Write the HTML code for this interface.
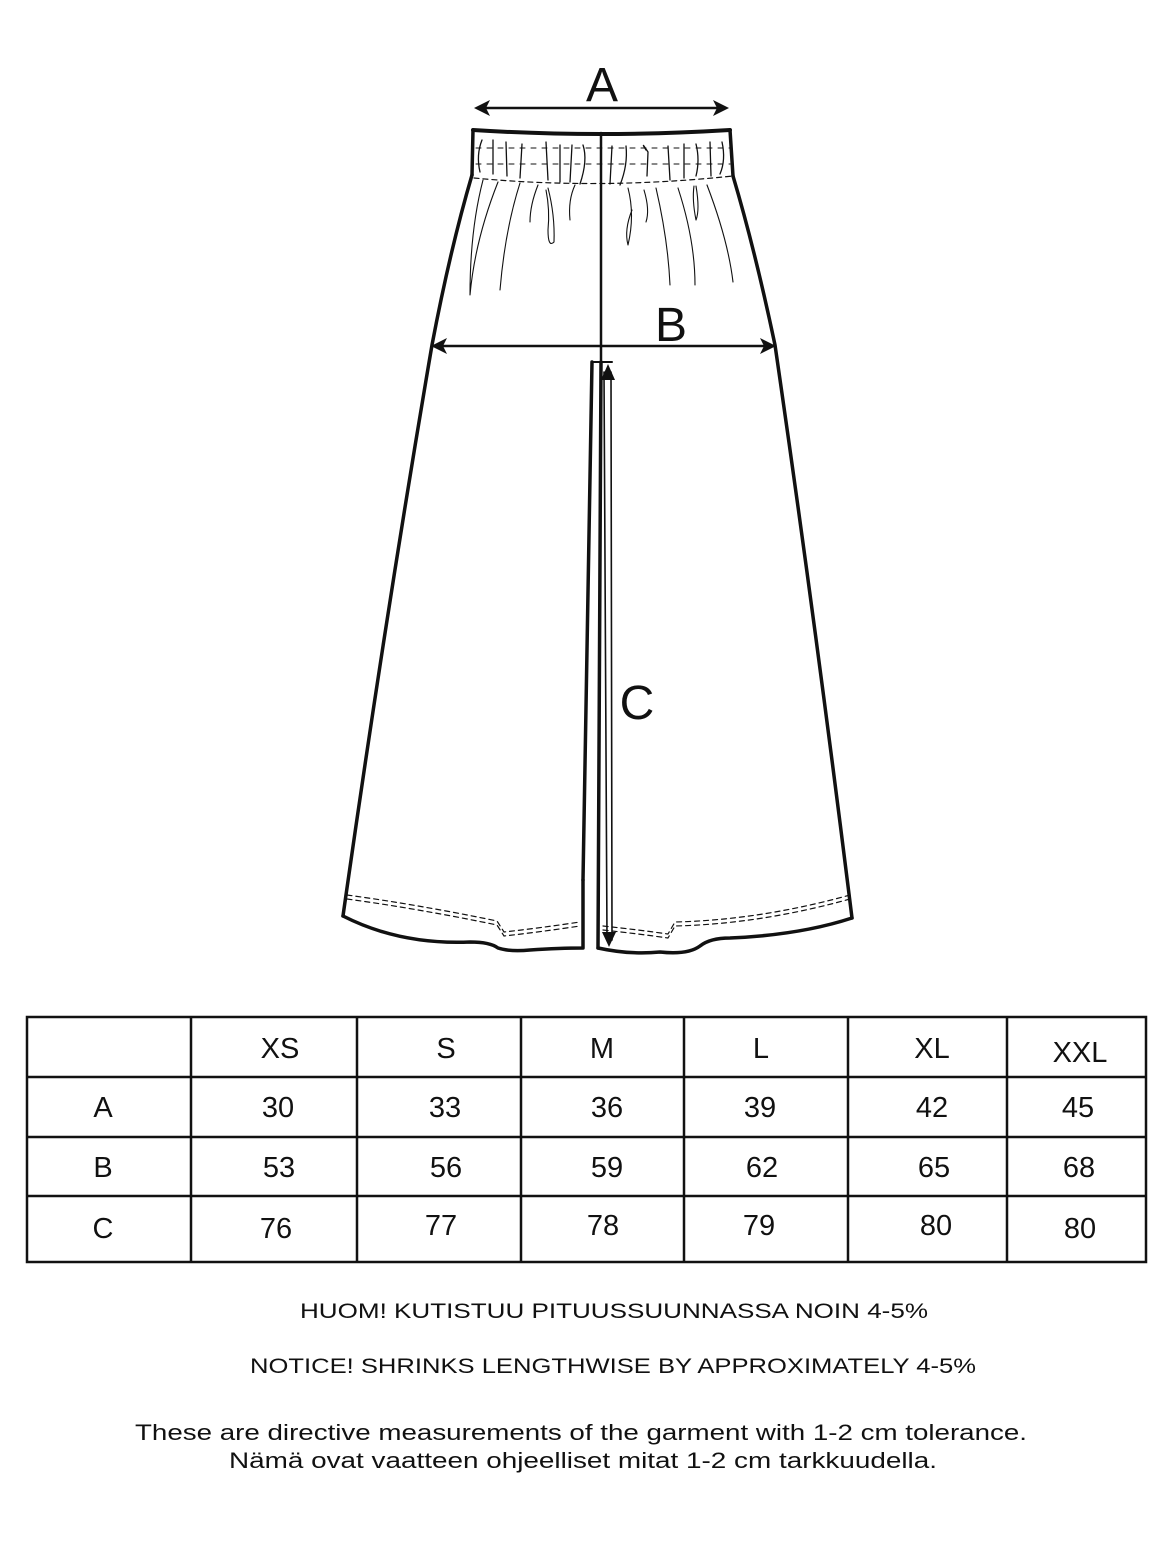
<!DOCTYPE html>
<html><head><meta charset="utf-8"><style>
html,body{margin:0;padding:0;background:#fff;}
svg{display:block}
text{font-family:"Liberation Sans",sans-serif;fill:#111}
</style></head><body>
<svg width="1160" height="1547" viewBox="0 0 1160 1547" xmlns="http://www.w3.org/2000/svg">
<g fill="none" stroke="#111" stroke-linecap="round" stroke-linejoin="round">
<path d="M473,130 Q600,138 730,130" stroke-width="4"/>
<path d="M473,130 L472,175 M730,130 L733,176" stroke-width="3.5"/>
<path d="M474,178 Q600,190 733,176" stroke-width="1.2" stroke-dasharray="5,4"/>
<path d="M476,148 L730,148 M476,164 L730,164" stroke-width="1" stroke-dasharray="5,6"/>
<g stroke-width="1.3">
<path d="M482,140 Q476,155 480,172"/><path d="M493,140 L493,174"/><path d="M506,142 L507,176"/><path d="M522,144 L520,178"/>
<path d="M546,142 L548,180"/><path d="M560,145 L560,182"/><path d="M572,145 L570,182"/><path d="M583,145 Q588,160 580,184"/>
<path d="M612,146 L610,184"/><path d="M626,146 Q628,165 620,185"/><path d="M646,150 Q640,140 648,152 L647,176"/><path d="M668,146 L670,180"/>
<path d="M684,144 L684,178"/><path d="M696,144 Q700,160 696,176"/><path d="M710,142 L711,176"/><path d="M722,142 Q726,160 720,174"/>
</g>
<g stroke-width="1.1">
<path d="M483,180 Q470,230 470,295 Q475,240 498,182"/>
<path d="M520,183 Q505,230 500,290"/>
<path d="M538,185 Q530,205 530,222"/>
<path d="M548,188 Q555,215 554,242 Q548,248 548,230 Q550,210 546,190"/>
<path d="M575,185 Q568,200 570,220"/>
<path d="M628,188 Q635,215 628,245 Q624,230 632,210"/>
<path d="M644,190 Q650,210 646,222"/>
<path d="M656,188 Q668,240 670,285"/>
<path d="M678,188 Q695,240 695,285"/>
<path d="M696,186 Q700,210 696,220 Q692,200 694,186"/>
<path d="M707,185 Q728,240 733,282"/>
</g>
<path d="M472,175 Q450,250 432,345 Q385,620 343,916" stroke-width="3.5"/>
<path d="M733,176 Q755,250 775,345 Q815,620 852,918" stroke-width="3.5"/>
<path d="M343,916 Q400,945 470,942 Q490,942 498,948 Q510,952 530,950 Q560,948 583,948 L583,880" stroke-width="3.5"/>
<path d="M598,948 Q630,955 660,952 Q688,955 700,946 Q710,938 730,938 Q800,935 852,918" stroke-width="3.5"/>
<path d="M583,880 L592,362" stroke-width="3.5"/>
<path d="M598,948 L601,362" stroke-width="3.5"/>
<path d="M347,895 Q420,905 497,921 L504,932 Q540,928 580,922" stroke-width="1.2" stroke-dasharray="5,4"/>
<path d="M347,899 Q420,909 497,925 L504,936 Q540,932 580,926" stroke-width="1.2" stroke-dasharray="5,4"/>
<path d="M603,926 Q640,930 668,934 L675,922 Q760,920 850,895" stroke-width="1.2" stroke-dasharray="5,4"/>
<path d="M603,930 Q640,934 668,938 L675,926 Q760,924 850,899" stroke-width="1.2" stroke-dasharray="5,4"/>
<path d="M601,133 L601,362" stroke-width="2.5"/>
<path d="M593,362 L612,362" stroke-width="2"/>
<path d="M604,372 L607,940 M611,372 L612,940" stroke-width="1.6"/>
<path d="M480,108 L722,108" stroke-width="2.5"/>
<path d="M438,346 L770,346" stroke-width="2.5"/>
</g>
<g fill="#111">
<path d="M474,108 L490,100 L486,108 L490,116Z"/>
<path d="M729,108 L713,100 L717,108 L713,116Z"/>
<path d="M431,346 L447,338 L443,346 L447,354Z"/>
<path d="M776,346 L760,338 L764,346 L760,354Z"/>
<path d="M608,364 L601,380 L615,380Z"/>
<path d="M609,947 L602,932 L616,932Z"/>
</g>
<text x="602" y="101" font-size="48" text-anchor="middle">A</text>
<text x="671" y="341" font-size="48" text-anchor="middle">B</text>
<text x="637" y="719" font-size="48" text-anchor="middle">C</text>
<g stroke="#111" stroke-width="2.5" fill="none">
<rect x="27" y="1017" width="1119" height="245"/>
<path d="M27,1077 H1146 M27,1137 H1146 M27,1196 H1146"/>
<path d="M191,1017 V1262 M357,1017 V1262 M521,1017 V1262 M684,1017 V1262 M848,1017 V1262 M1007,1017 V1262"/>
</g>
<g font-size="29" text-anchor="middle">
<text x="280" y="1058">XS</text><text x="446" y="1058">S</text><text x="602" y="1058">M</text><text x="761" y="1058">L</text><text x="932" y="1058">XL</text><text x="1080" y="1062">XXL</text>
<text x="103" y="1117">A</text><text x="278" y="1117">30</text><text x="445" y="1117">33</text><text x="607" y="1117">36</text><text x="760" y="1117">39</text><text x="932" y="1117">42</text><text x="1078" y="1117">45</text>
<text x="103" y="1177">B</text><text x="279" y="1177">53</text><text x="446" y="1177">56</text><text x="607" y="1177">59</text><text x="762" y="1177">62</text><text x="934" y="1177">65</text><text x="1079" y="1177">68</text>
<text x="103" y="1238">C</text><text x="276" y="1238">76</text><text x="441" y="1235">77</text><text x="603" y="1235">78</text><text x="759" y="1235">79</text><text x="936" y="1235">80</text><text x="1080" y="1238">80</text>
</g>
<g>
<text x="300" y="1318" font-size="21" textLength="628" lengthAdjust="spacingAndGlyphs">HUOM! KUTISTUU PITUUSSUUNNASSA NOIN 4-5%</text>
<text x="250" y="1373" font-size="21" textLength="726" lengthAdjust="spacingAndGlyphs">NOTICE! SHRINKS LENGTHWISE BY APPROXIMATELY 4-5%</text>
<text x="135" y="1440" font-size="22" textLength="892" lengthAdjust="spacingAndGlyphs">These are directive measurements of the garment with 1-2 cm tolerance.</text>
<text x="229" y="1468" font-size="22" textLength="708" lengthAdjust="spacingAndGlyphs">Nämä ovat vaatteen ohjeelliset mitat 1-2 cm tarkkuudella.</text>
</g>
</svg>
</body></html>
